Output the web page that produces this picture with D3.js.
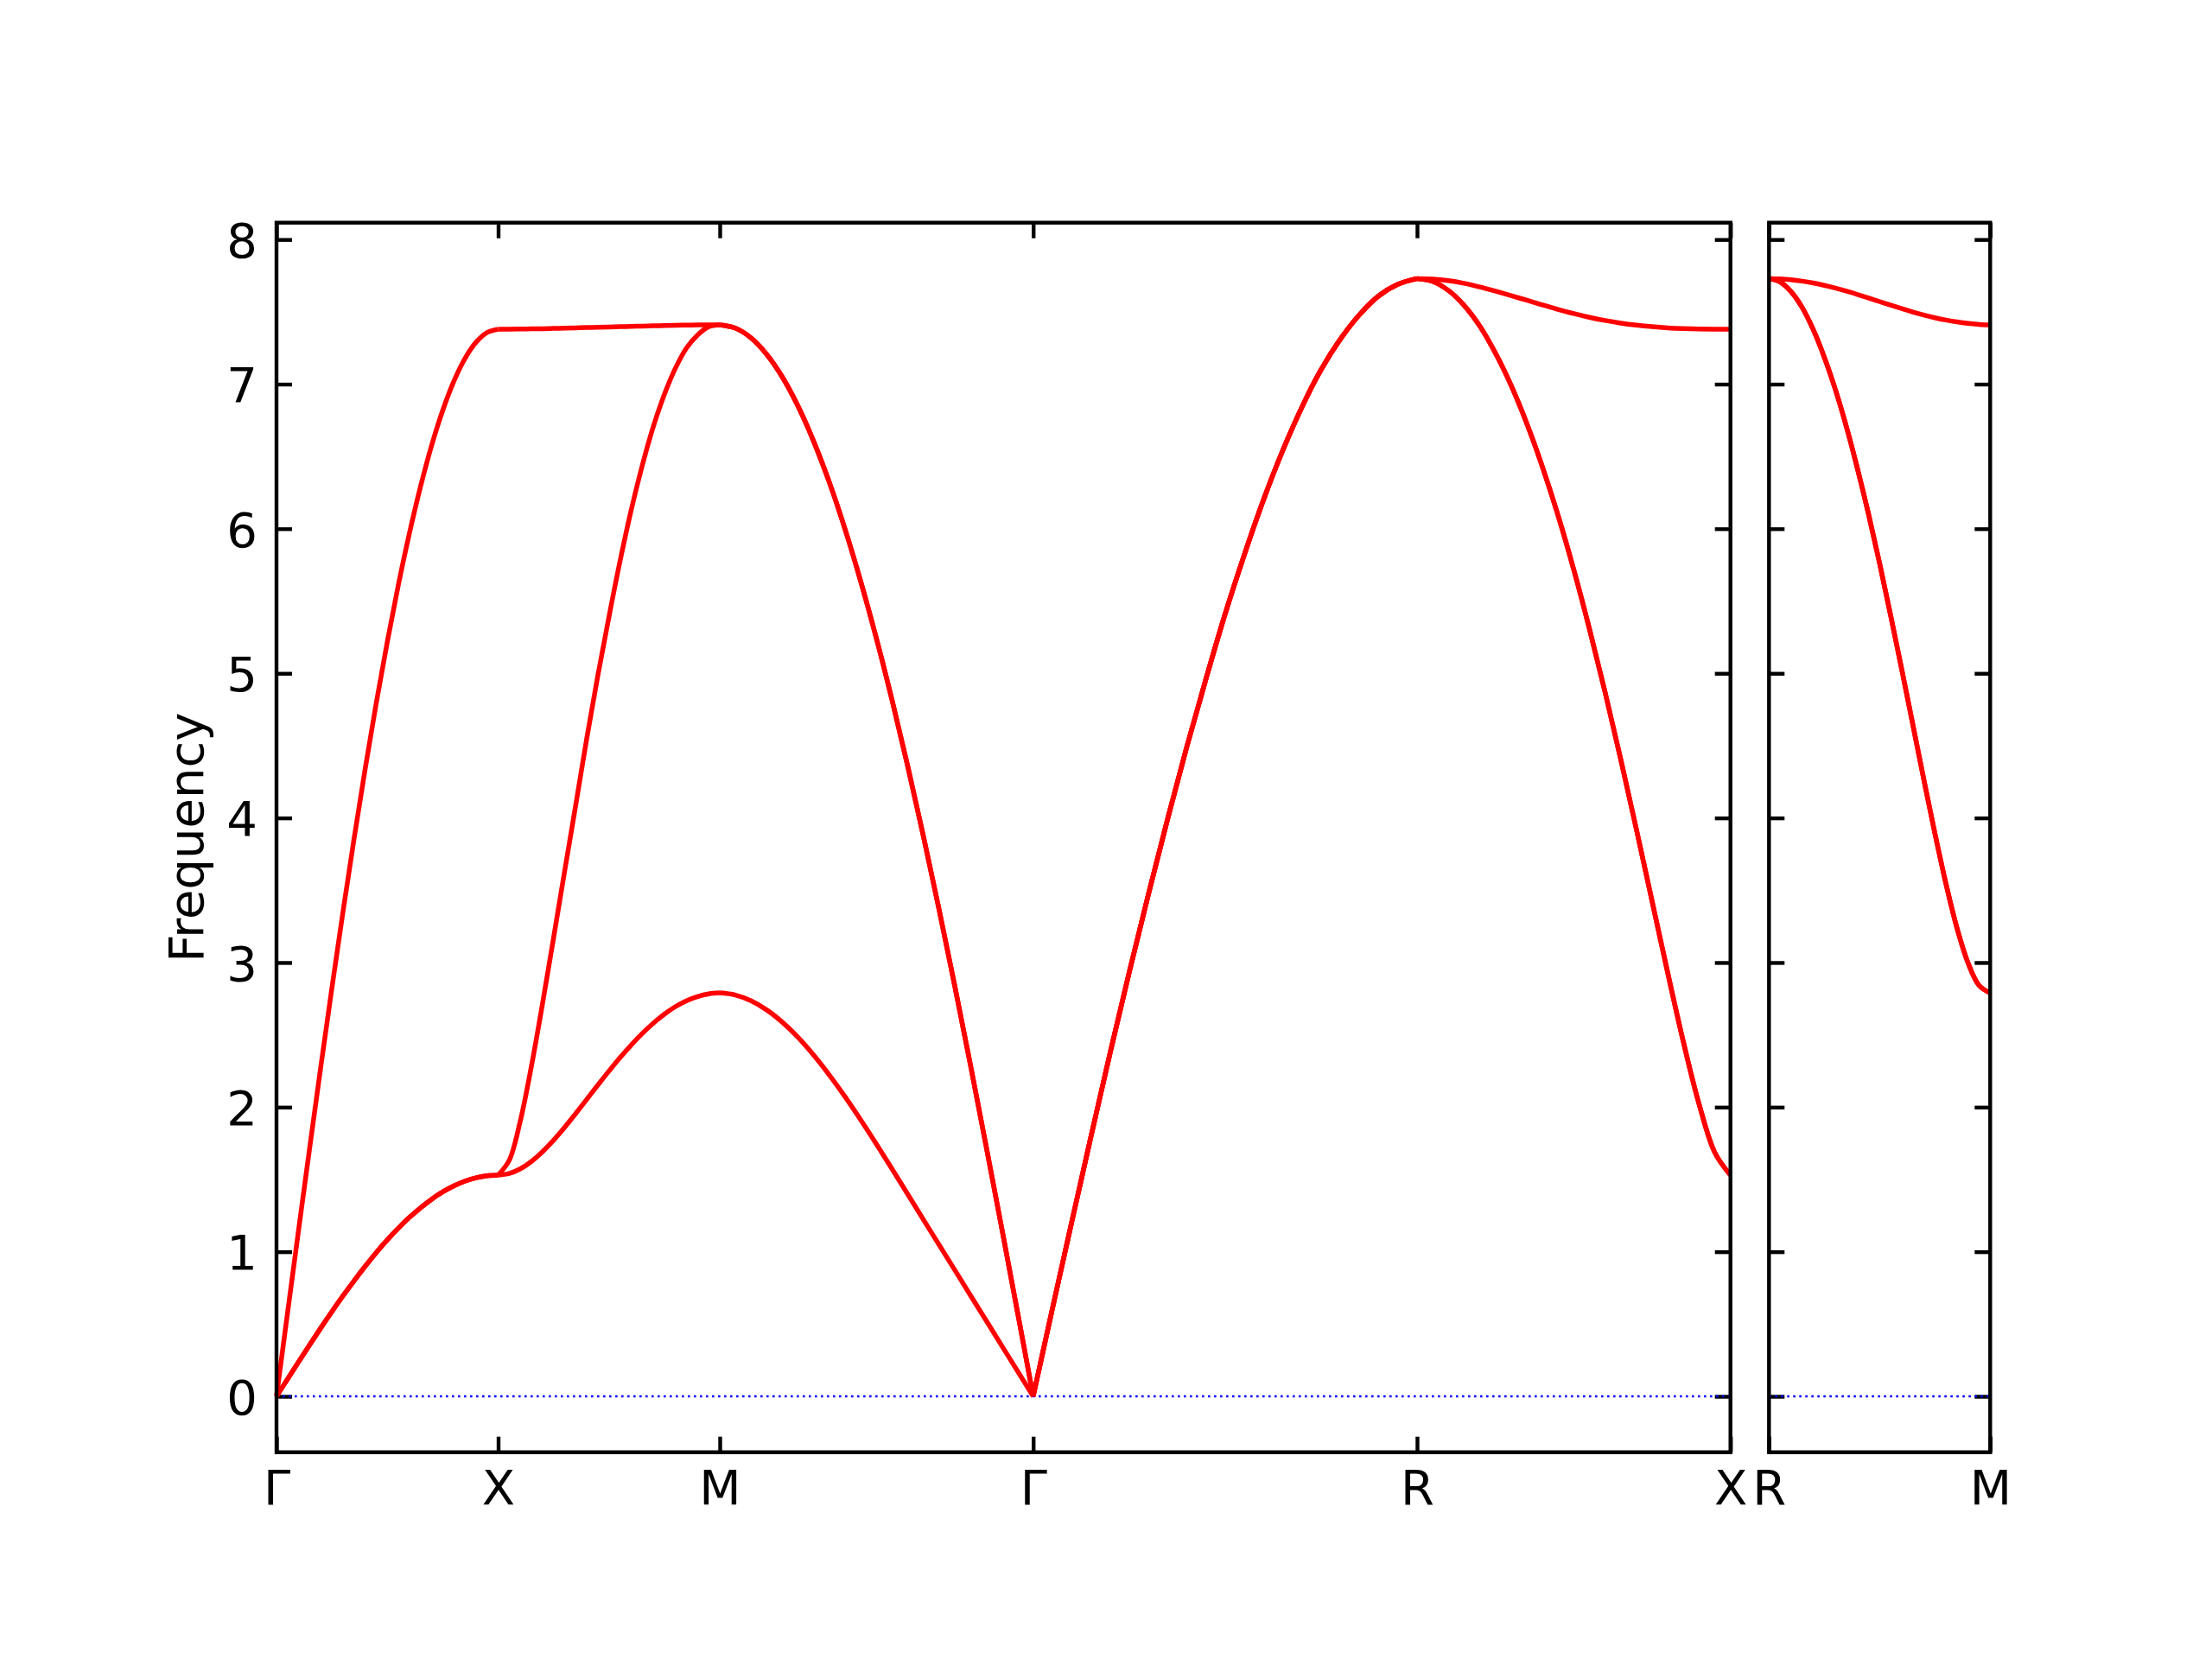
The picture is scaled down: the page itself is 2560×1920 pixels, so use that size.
<!DOCTYPE html>
<html>
<head>
<meta charset="utf-8">
<script src="https://cdn.jsdelivr.net/npm/d3@7"></script>
<style>
  body { margin: 0; background: #fff; }
  svg { display: block; }
  text { font-family: "DejaVu Sans", sans-serif; }
</style>
</head>
<body>
<svg id="chart" width="2560" height="1920"></svg>
<script>
// fraction along each path segment where the band values were read
const grid = [0, 0.05, 0.1, 0.15, 0.2, 0.25, 0.3, 0.35, 0.4, 0.45, 0.5,
              0.55, 0.6, 0.65, 0.7, 0.75, 0.8, 0.85, 0.9, 0.95, 1];

// main panel: Γ-X-M-Γ-R-X, side panel: R-M
const mainLabels = ['Γ', 'X', 'M', 'Γ', 'R', 'X'];
const mainLengths = [0.5, 0.5, 0.7071, 0.866, 0.7071];
const sideLabels = ['R', 'M'];
const sideLengths = [0.5];
const yTicks = [0, 1, 2, 3, 4, 5, 6, 7, 8];

// Γ-X
const gxTA = [0, 0.120, 0.239, 0.357, 0.473, 0.586, 0.695, 0.799, 0.899, 0.994, 1.082,
              1.163, 1.238, 1.304, 1.363, 1.414, 1.455, 1.488, 1.511, 1.525, 1.53];
const gxLA = [0, 0.579, 1.154, 1.722, 2.280, 2.824, 3.351, 3.856, 4.338, 4.793, 5.218,
              5.612, 5.970, 6.292, 6.576, 6.818, 7.019, 7.176, 7.289, 7.357, 7.38];
// X-M
const xmLow = [1.530, 1.541, 1.573, 1.624, 1.691, 1.771, 1.860, 1.956, 2.054, 2.153, 2.249,
               2.342, 2.429, 2.509, 2.580, 2.643, 2.695, 2.736, 2.765, 2.783, 2.79];
const xmMid = [1.530, 1.632, 1.904, 2.282, 2.713, 3.169, 3.631, 4.087, 4.550, 4.985, 5.390,
               5.775, 6.125, 6.435, 6.705, 6.928, 7.110, 7.250, 7.340, 7.397, 7.41];
const xmTop = [7.38, 7.38, 7.381, 7.382, 7.383, 7.385, 7.387, 7.389, 7.391, 7.393, 7.395,
               7.397, 7.399, 7.401, 7.403, 7.405, 7.407, 7.408, 7.409, 7.41, 7.41];
// M-Γ
const mgLow = [2.790, 2.775, 2.735, 2.672, 2.587, 2.482, 2.359, 2.221, 2.071, 1.911, 1.744,
               1.572, 1.397, 1.221, 1.047, 0.873, 0.698, 0.524, 0.349, 0.175, 0];
const mgTop = [7.41, 7.387, 7.319, 7.205, 7.048, 6.846, 6.602, 6.318, 5.995, 5.634, 5.24,
               4.812, 4.356, 3.872, 3.364, 2.836, 2.29, 1.729, 1.159, 0.582, 0];
// Γ-R
const grAll = [0, 0.605, 1.20, 1.79, 2.37, 2.93, 3.47, 3.99, 4.49, 4.96, 5.41,
               5.82, 6.20, 6.54, 6.84, 7.10, 7.31, 7.48, 7.61, 7.69, 7.73];
// R-X
const rxTop = [7.730, 7.727, 7.716, 7.697, 7.672, 7.643, 7.612, 7.580, 7.548, 7.517, 7.488,
               7.462, 7.440, 7.422, 7.408, 7.397, 7.389, 7.384, 7.381, 7.380, 7.38];
const rxLow = [7.730, 7.710, 7.648, 7.545, 7.402, 7.215, 6.992, 6.729, 6.428, 6.091, 5.717,
               5.308, 4.869, 4.404, 3.920, 3.423, 2.927, 2.449, 2.020, 1.686, 1.53];
// R-M
const rmTop = [7.730, 7.728, 7.722, 7.712, 7.699, 7.683, 7.664, 7.643, 7.620, 7.596, 7.571,
               7.546, 7.522, 7.499, 7.478, 7.459, 7.443, 7.430, 7.420, 7.413, 7.41];
const rmLow = [7.730, 7.707, 7.639, 7.530, 7.377, 7.186, 6.963, 6.705, 6.415, 6.101, 5.761,
               5.400, 5.028, 4.647, 4.265, 3.893, 3.545, 3.238, 2.997, 2.841, 2.789];

const mainBands = [
    [gxTA, gxTA, gxLA],
    [xmLow, xmMid, xmTop],
    [mgLow, mgTop, mgTop],
    [grAll, grAll, grAll],
    [rxLow, rxLow, rxTop]
];
const sideBands = [
    [rmLow, rmLow, rmTop]
];

const svg = d3.select('#chart');
svg.append('rect').attr('width', 2560).attr('height', 1920).attr('fill', '#fff');

const plotTop = 257.7, plotBottom = 1680.7;
const tickLen = 18;
const lw = 4.4;

const y = d3.scaleLinear().domain([-0.3865, 8.1165]).range([plotBottom, plotTop]);

const drawPanel = (left, right, labels, lengths, bands, showY) => {
    const cum = [0];
    lengths.forEach(l => cum.push(cum[cum.length - 1] + l));
    const x = d3.scaleLinear().domain([0, cum[cum.length - 1]]).range([left, right]);
    const g = svg.append('g');

    // inward ticks on all four sides
    const axB = g.append('g').attr('transform', `translate(0,${plotBottom})`)
        .call(d3.axisBottom(x).tickValues(cum).tickSizeInner(-tickLen).tickSizeOuter(0)
            .tickPadding(21).tickFormat((d, i) => labels[i]));
    const axT = g.append('g').attr('transform', `translate(0,${plotTop})`)
        .call(d3.axisTop(x).tickValues(cum).tickSizeInner(-tickLen).tickSizeOuter(0).tickFormat(''));
    const axL = g.append('g').attr('transform', `translate(${left},0)`)
        .call(d3.axisLeft(y).tickValues(yTicks).tickSizeInner(-tickLen).tickSizeOuter(0)
            .tickPadding(22).tickFormat(showY ? d3.format('d') : ''));
    const axR = g.append('g').attr('transform', `translate(${right},0)`)
        .call(d3.axisRight(y).tickValues(yTicks).tickSizeInner(-tickLen).tickSizeOuter(0).tickFormat(''));

    [axB, axT, axL, axR].forEach(a => {
        a.select('.domain').remove();
        a.selectAll('line').attr('stroke', '#000').attr('stroke-width', lw);
        a.selectAll('text').attr('font-family', '"DejaVu Sans", sans-serif')
            .attr('font-size', 56).attr('fill', '#000');
    });
    axL.selectAll('text').attr('dy', '0.36em');

    // zero line
    g.append('line')
        .attr('x1', x(0)).attr('x2', x(cum[cum.length - 1]))
        .attr('y1', y(0)).attr('y2', y(0))
        .attr('stroke', '#0000ff').attr('stroke-width', 2.6)
        .attr('stroke-dasharray', '2.6 4.4');

    const line = d3.line()
        .x(d => x(d[0]))
        .y(d => y(d[1]))
        .curve(d3.curveCatmullRom.alpha(0.5));

    bands.forEach((seg, s) => {
        seg.forEach(band => {
            const pts = grid.map((u, j) => [cum[s] + u * lengths[s], band[j]]);
            g.append('path')
                .attr('d', line(pts))
                .attr('fill', 'none')
                .attr('stroke', '#ff0000')
                .attr('stroke-width', 5.5)
                .attr('stroke-linejoin', 'round');
        });
    });

    g.append('rect')
        .attr('x', left).attr('y', plotTop)
        .attr('width', right - left).attr('height', plotBottom - plotTop)
        .attr('fill', 'none').attr('stroke', '#000').attr('stroke-width', lw);
};

drawPanel(320, 2002.7, mainLabels, mainLengths, mainBands, true);
drawPanel(2047.3, 2303.3, sideLabels, sideLengths, sideBands, false);

svg.append('text')
    .attr('transform', `translate(235,${(plotTop + plotBottom) / 2}) rotate(-90)`)
    .attr('text-anchor', 'middle')
    .attr('font-size', 56)
    .attr('fill', '#000')
    .text('Frequency');
</script>
</body>
</html>
